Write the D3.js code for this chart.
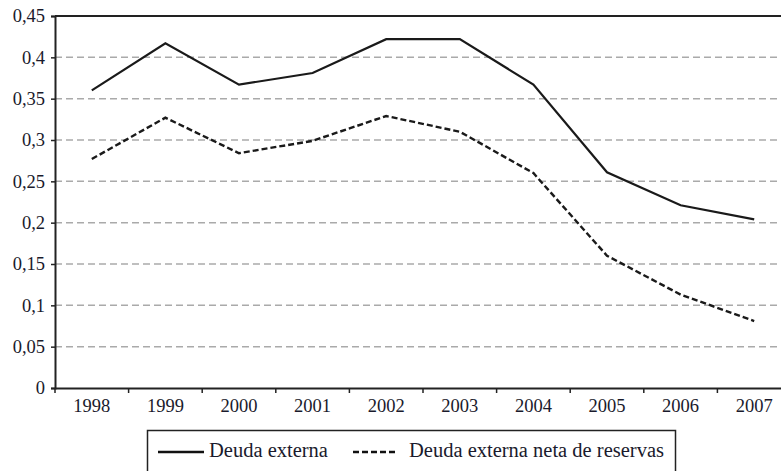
<!DOCTYPE html>
<meta charset="utf-8">
<html>
<head>
    <script src="https://d3js.org/d3.v7.min.js"></script>
    <style>
        body { margin: 0; background: #fff; }
        svg { display: block; }
    </style>
</head>
<body>
    <div id="chart"></div>
    <script>

        // data
        var years = ["1998", "1999", "2000", "2001", "2002", "2003", "2004", "2005", "2006", "2007"];
        var deudaExterna = [0.36, 0.417, 0.367, 0.381, 0.422, 0.422, 0.367, 0.261, 0.221, 0.204];
        var deudaNeta = [0.277, 0.327, 0.284, 0.299, 0.329, 0.310, 0.260, 0.160, 0.113, 0.081];
        var yTicks = [0, 0.05, 0.1, 0.15, 0.2, 0.25, 0.3, 0.35, 0.4, 0.45];
        var seriesNames = ["Deuda externa", "Deuda externa neta de reservas"];

        var FONT = "'Liberation Serif'";
        var TEXT = "#1a1a2c";

        var margin = { top: 16, right: -10, bottom: 83, left: 55 };
        var W = 781, H = 471;
        var width = W - margin.left - margin.right;
        var height = H - margin.top - margin.bottom;

        var svg = d3.select("#chart")
            .append("svg")
            .attr("width", W)
            .attr("height", H);

        var g = svg.append("g")
            .attr("transform", "translate(" + margin.left + "," + margin.top + ")");

        var x = d3.scaleBand()
            .domain(years)
            .range([0, width]);

        var y = d3.scaleLinear()
            .domain([0, 0.45])
            .range([height, 0]);

        var fmt = function (d) { return d3.format(".2~f")(d).replace(".", ","); };

        // grid lines
        g.selectAll(".grid")
            .data(yTicks.filter(function (d) { return d > 0 && d < 0.45; }))
            .enter()
            .append("line")
            .attr("x1", 0)
            .attr("x2", width)
            .attr("y1", function (d) { return y(d); })
            .attr("y2", function (d) { return y(d); })
            .attr("stroke", "#aaa")
            .attr("stroke-width", 1.5)
            .attr("stroke-dasharray", "7,4");

        // top border
        g.append("line")
            .attr("x1", 0).attr("x2", width)
            .attr("y1", 0).attr("y2", 0)
            .attr("stroke", "#222").attr("stroke-width", 2);

        // Y axis
        var yAxis = g.append("g")
            .call(d3.axisLeft(y).tickValues(yTicks).tickFormat(fmt).tickSize(4).tickPadding(6));
        yAxis.select(".domain").attr("stroke", "#222").attr("stroke-width", 2);
        yAxis.selectAll(".tick line").attr("stroke", "#222").attr("stroke-width", 1.5);
        yAxis.selectAll("text")
            .style("font-family", FONT)
            .style("font-size", "18.5px")
            .style("fill", TEXT);

        // X axis, ticks between categories
        var xAxis = g.append("g")
            .attr("transform", "translate(0," + height + ")")
            .call(d3.axisBottom(x).tickSize(0).tickPadding(11));
        xAxis.select(".domain").attr("stroke", "#222").attr("stroke-width", 2);
        xAxis.selectAll("text")
            .style("font-family", FONT)
            .style("font-size", "18.5px")
            .style("fill", TEXT);
        g.append("g")
            .selectAll("line")
            .data(years)
            .enter()
            .append("line")
            .attr("x1", function (d) { return x(d); })
            .attr("x2", function (d) { return x(d); })
            .attr("y1", height)
            .attr("y2", height + 5)
            .attr("stroke", "#222")
            .attr("stroke-width", 1.5);

        // lines
        var line = d3.line()
            .x(function (d, i) { return x(years[i]) + x.bandwidth() / 2; })
            .y(function (d) { return y(d); });

        g.append("path")
            .datum(deudaExterna)
            .attr("d", line)
            .attr("fill", "none")
            .attr("stroke", "#1a1a1a")
            .attr("stroke-width", 2.2);

        g.append("path")
            .datum(deudaNeta)
            .attr("d", line)
            .attr("fill", "none")
            .attr("stroke", "#1a1a1a")
            .attr("stroke-width", 2.4)
            .attr("stroke-dasharray", "6,3");

        // legend
        var legend = svg.append("g");
        legend.append("rect")
            .attr("x", 147.5)
            .attr("y", 430.5)
            .attr("width", 528)
            .attr("height", 50)
            .attr("fill", "none")
            .attr("stroke", "#222")
            .attr("stroke-width", 1.5);

        var items = [
            { name: seriesNames[0], x1: 158, x2: 204, tx: 209, dash: null },
            { name: seriesNames[1], x1: 353, x2: 398, tx: 409, dash: "6,3" }
        ];
        items.forEach(function (it) {
            legend.append("line")
                .attr("x1", it.x1).attr("x2", it.x2)
                .attr("y1", 452).attr("y2", 452)
                .attr("stroke", "#111")
                .attr("stroke-width", 2.6)
                .attr("stroke-dasharray", it.dash);
            legend.append("text")
                .attr("x", it.tx)
                .attr("y", 457)
                .style("font-family", FONT)
                .style("font-size", "20.5px")
                .style("fill", TEXT)
                .text(it.name);
        });

    </script>
</body>
</html>
